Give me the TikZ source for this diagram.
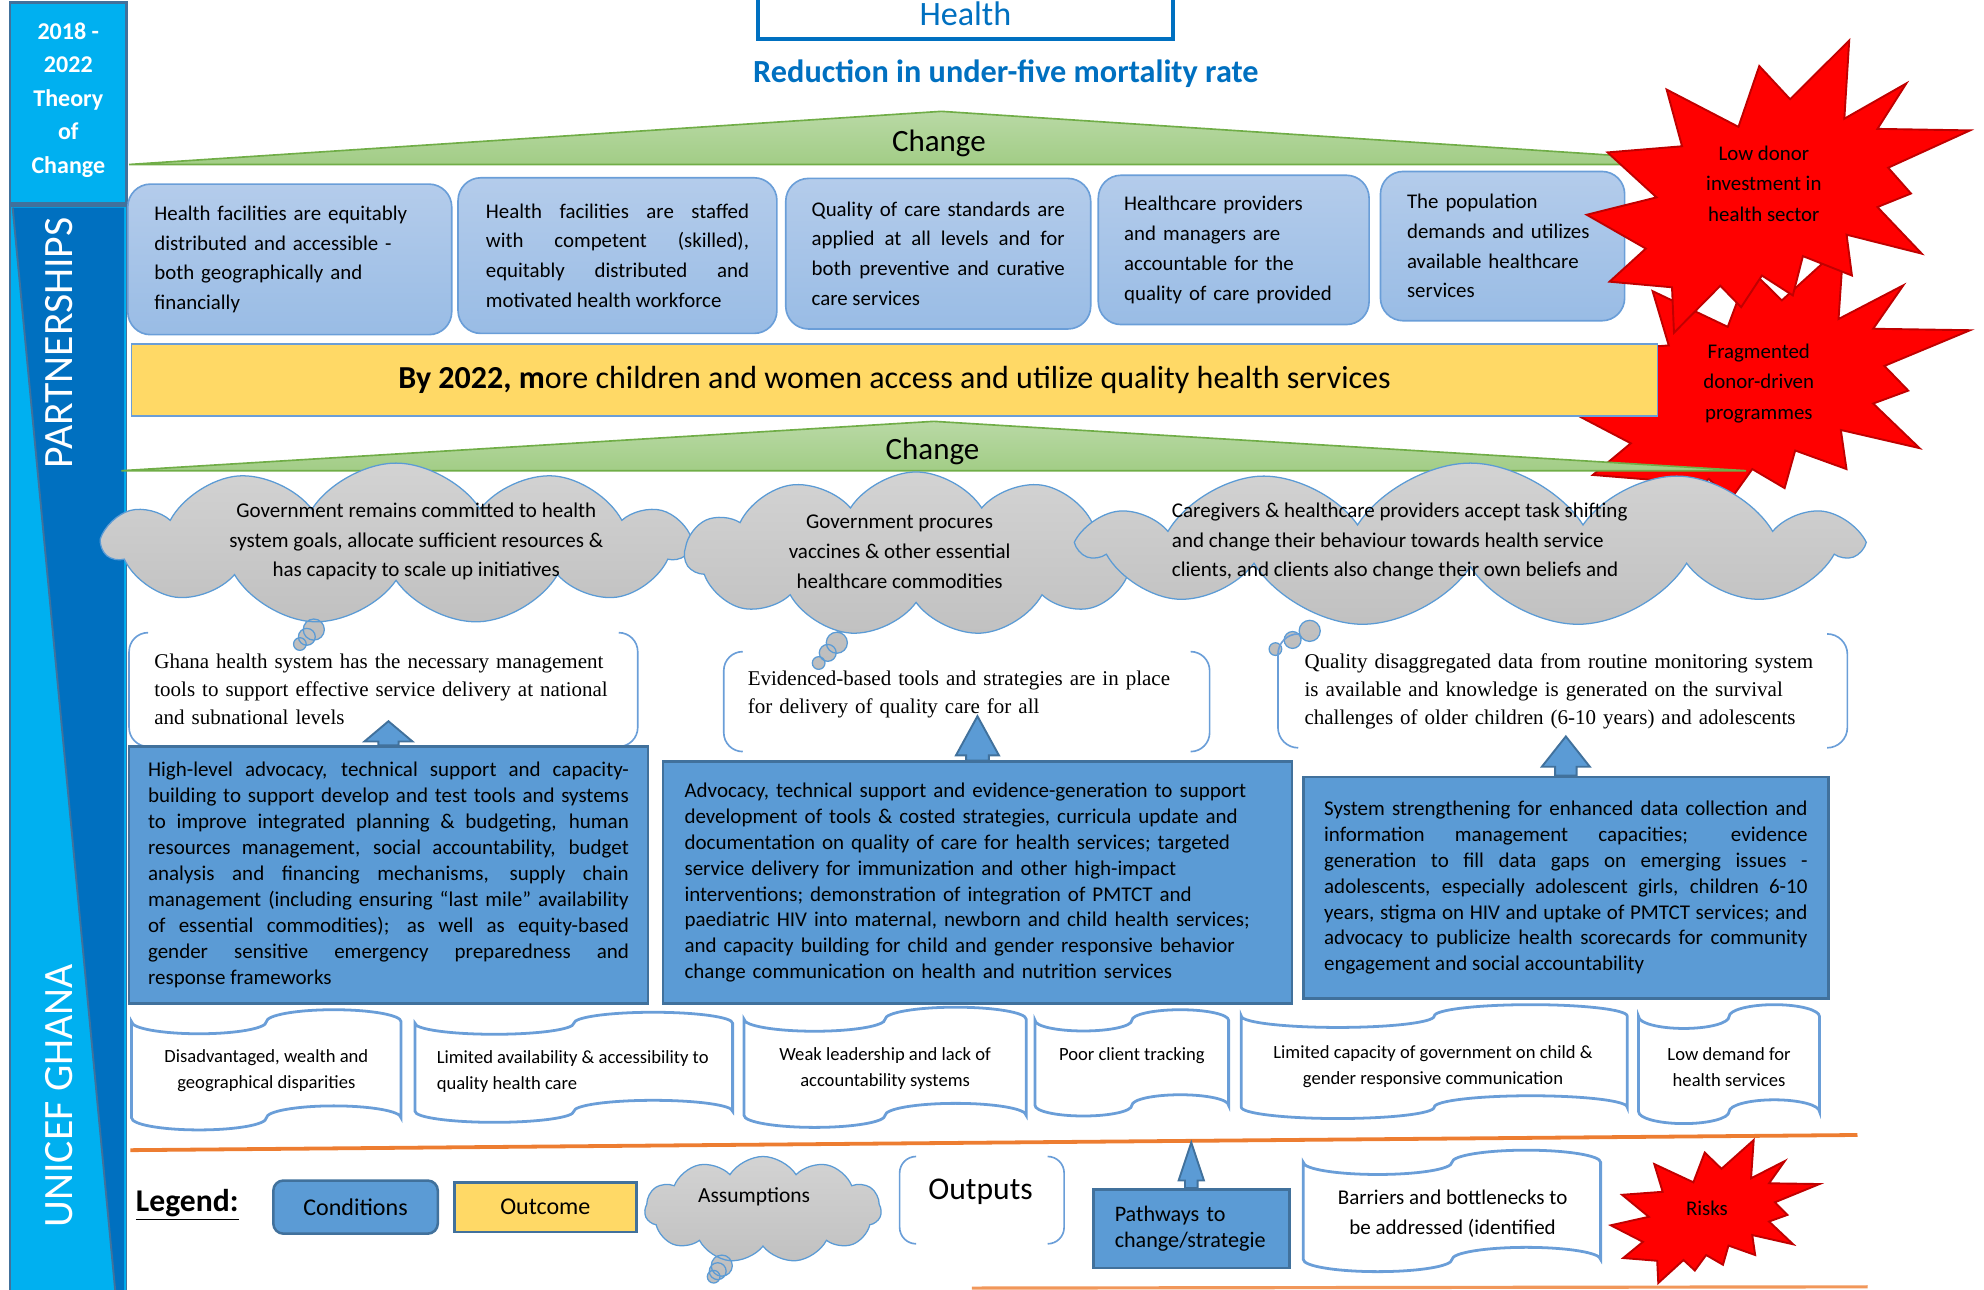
\documentclass[tikz,border=0pt]{standalone}
\usepackage{fontspec}
\setmainfont{Carlito}
\newfontfamily\timesfont{Liberation Serif}
\usetikzlibrary{positioning,calc,shapes.symbols,shapes.callouts}

\definecolor{sidelight}{HTML}{00B0F0}
\definecolor{sidedark}{HTML}{0070C0}
\definecolor{sideedge}{HTML}{41719C}
\definecolor{headblue}{HTML}{0070C0}
\definecolor{condtop}{HTML}{B4CCEB}
\definecolor{condbot}{HTML}{99BCE5}
\definecolor{condedge}{HTML}{6A9ED8}
\definecolor{stratfill}{HTML}{5B9BD5}
\definecolor{stratedge}{HTML}{41719C}
\definecolor{outfill}{HTML}{FFD966}
\definecolor{greentop}{HTML}{B9D9A5}
\definecolor{greenbot}{HTML}{A2CD86}
\definecolor{greenedge}{HTML}{70AD47}
\definecolor{cloudtop}{HTML}{D3D3D3}
\definecolor{cloudbot}{HTML}{BDBDBD}
\definecolor{cloudedge}{HTML}{5B9BD5}
\definecolor{starred}{HTML}{FF0000}
\definecolor{staredge}{HTML}{C00000}
\definecolor{lineorange}{HTML}{ED7D31}

\hyphenpenalty=10000
\newcommand\fs[2]{\fontsize{#1}{#2}\selectfont}

% explosion: x0, y0, width, height
\newcommand\explosion[4]{%
  \draw[burst] ({#1+0.5306*#3},{#2+0.2010*#4})
    \foreach \px/\py in {0.6847/0,0.6720/0.2675,0.8336/0.1469,0.7583/0.3024,1/0.3076,
      0.7863/0.4353,0.8458/0.5236,0.7583/0.5699,0.8739/0.7293,0.6778/0.6644,0.6918/0.8042,
      0.5639/0.7377,0.5376/0.8723,0.4570/0.8042,0.4028/0.9126,0.3485/0.8391,0.2276/1,
      0.2225/0.8444,0.0595/0.8252,0.1542/0.7120,0/0.5962,0.1822/0.5367,0.0543/0.3829,
      0.2487/0.3619,0.2084/0.1678,0.3958/0.2955,0.4501/0.0874}
    {-- ({#1+\px*#3},{#2+\py*#4})} -- cycle;}

% punched tape: x0, y0, width, height
\newcommand\tapeframe[4]{%
  \draw[tapeline] (#1,{#2+0.1*#4})
    arc[start angle=180,end angle=360,x radius={0.25*#3*1pt},y radius={0.1*#4*1pt}]
    arc[start angle=180,end angle=0,x radius={0.25*#3*1pt},y radius={0.1*#4*1pt}]
    -- ({#1+#3},{#2+0.9*#4})
    arc[start angle=0,end angle=180,x radius={0.25*#3*1pt},y radius={0.1*#4*1pt}]
    arc[start angle=0,end angle=-180,x radius={0.25*#3*1pt},y radius={0.1*#4*1pt}]
    -- cycle;}

% bracket pair: x0, y0, x1, y1, radius
\newcommand\bracketpair[5]{%
  \draw[bracketline] ({#1+#5},#2) arc[start angle=90,end angle=180,radius=#5pt]
    -- (#1,{#4-#5}) arc[start angle=180,end angle=270,radius=#5pt];
  \draw[bracketline] ({#3-#5},#2) arc[start angle=90,end angle=0,radius=#5pt]
    -- (#3,{#4-#5}) arc[start angle=0,end angle=-90,radius=#5pt];}

% up arrow on a node: node, length, shaft, head half, shaft half
\newcommand\blockup[5]{%
  \draw[arrowblock] ($(#1.north)+(-#5,0)$) -- ++(0,-#3) -- ++({#5-#4},0)
    -- ($(#1.north)+(0,-#2)$) -- ($(#1.north)+(#4,-#3)$) -- ++({#5-#4},0)
    -- ($(#1.north)+(#5,0)$) -- cycle;}

\begin{document}
\begin{tikzpicture}[x=1pt, y=-1pt,
    condbox/.style={rectangle, rounded corners=18pt, draw=condedge, line width=1.3pt,
      top color=condtop, bottom color=condbot, font=\fs{16.5}{23.5}, inner sep=0pt},
    stratbox/.style={rectangle, draw=stratedge, line width=2pt, fill=stratfill,
      font=\fs{16.6}{20.5}, inner sep=0pt},
    outbox/.style={rectangle, inner sep=0pt, align=left, font=\timesfont\fs{16.6}{22}},
    assume/.style={cloud callout, cloud puffs=11, cloud puff arc=115, cloud ignores aspect,
      draw=cloudedge, line width=1pt, top color=cloudtop, bottom color=cloudbot,
      callout pointer segments=3, callout pointer start size=20pt and 20pt,
      callout pointer end size=8pt and 10pt, inner sep=0pt},
    asmtext/.style={font=\fs{16.6}{23.5}, align=center, inner sep=0pt},
    barrier/.style={font=\fs{14.7}{20.5}, align=center, inner sep=0pt},
    burst/.style={fill=starred, draw=staredge, line width=1.5pt},
    bursttext/.style={font=\fs{16.5}{24}, align=center, inner sep=0pt},
    tapeline/.style={draw=condedge, line width=2.2pt, fill=white},
    bracketline/.style={draw=condedge, line width=1.3pt},
    arrowblock/.style={fill=stratfill, draw=stratedge, line width=1.5pt},
    change/.style={top color=greentop, bottom color=greenbot, draw=greenedge, line width=1.3pt}]
\useasboundingbox (0,0) rectangle (1568,1019);
\clip (0,0) rectangle (1568,1019);

% side banner
\draw[sideedge, line width=2pt, fill=sidelight] (8,2) rectangle (100,161);
\draw[sideedge, line width=1.5pt, fill=sidelight] (8,163) rectangle (100,1030);
\fill[sidedark] (10,164) -- (98,164) -- (98,1030) -- (92,1030) -- cycle;
\draw[sideedge, line width=1.5pt] (10,164) -- (92,1030);
\node[font=\bfseries\fs{19}{26.5}, text=white, align=center] (period) at (54,79) {2018 -\\2022\\Theory\\of\\Change};
\node[font=\fs{33}{33}, text=white, rotate=90, inner sep=0pt] (partners) at (47,271) {PARTNERSHIPS};
\node[font=\fs{33}{33}, text=white, rotate=90, inner sep=0pt] (unicef) at (47,866) {UNICEF GHANA};

% impact
\node[draw=headblue, line width=3.5pt, fill=white, minimum width=328pt, minimum height=40pt, text=headblue, font=\fs{27}{27}] (health) at (763,11) {Health};
\node[text=headblue, font=\bfseries\fs{25.5}{25.5}] (impact) at (795,58) {Reduction in under-five mortality rate};

\draw[change] (102,130) -- (744,88) -- (1386,130) -- cycle;
\node[font=\fs{24.5}{24.5}] (change1) at (742,113) {Change};

% conditions
\node[condbox, minimum width=256pt, minimum height=119pt, text width=214pt, align=left] (cond1) at (229,205) {Health facilities are equitably\\distributed and accessible -\\both geographically and\\financially};
\node[condbox, minimum width=252pt, minimum height=123pt, text width=208pt, align=justify] (cond2) at (488,202) {Health facilities are staffed\linebreak with competent (skilled),\linebreak equitably distributed and\linebreak motivated health workforce};
\node[condbox, minimum width=241pt, minimum height=119pt, text width=200pt, align=justify] (cond3) at (741.5,200.5) {Quality of care standards are\linebreak applied at all levels and for\linebreak both preventive and curative\linebreak care services};
\node[condbox, minimum width=214pt, minimum height=118pt, text width=173pt, align=left] (cond4) at (975,197.5) {Healthcare providers\\and managers are\\accountable for the\\quality of care provided};
\node[condbox, minimum width=193pt, minimum height=118pt, text width=151pt, align=left] (cond5) at (1187.5,194.5) {The population\\demands and utilizes\\available healthcare\\services};

% risks
\explosion{1240}{193}{317}{221}
\explosion{1254}{32}{303}{231}
\node[bursttext] (lowdonor) at (1394,145) {Low donor\\investment in\\health sector};
\node[bursttext] (fragment) at (1390,303) {Fragmented\\donor-driven\\programmes};

% outcome
\node[draw=condedge, line width=1.3pt, fill=outfill, minimum width=1206pt, minimum height=57pt, font=\fs{25.3}{25.3}] (outcome) at (707,300.5) {\textbf{By 2022, m}ore children and women access and utilize quality health services};

\draw[change] (96,372) -- (738,333) -- (1380,372) -- cycle;
\node[font=\fs{24.5}{24.5}] (change2) at (737,357) {Change};

% assumptions
\node[assume, minimum width=462pt, minimum height=128pt, callout absolute pointer={(237,509)}] (cloud1) at (313,430) {};
\node[asmtext] (asm1) at (329,428) {Government remains committed to health\\system goals, allocate sufficient resources \&\\has capacity to scale up initiatives};
\node[assume, minimum width=365pt, minimum height=130pt, callout absolute pointer={(647,524)}] (cloud2) at (724,438) {};
\node[asmtext] (asm2) at (711,436) {Government procures\\vaccines \& other essential\\healthcare commodities};
\node[assume, minimum width=612pt, minimum height=130pt, callout absolute pointer={(1008,513)}] (cloud3) at (1162,431) {};
\node[asmtext, align=left, anchor=west] (asm3) at (926,428) {Caregivers \& healthcare providers accept task shifting\\and change their behaviour towards health service\\clients, and clients also change their own beliefs and};

% outputs
\bracketpair{102}{500}{504}{590}{15}
\node[outbox, text width=376pt] (out1) at (310,545) {Ghana health system has the necessary management\\tools to support effective service delivery at national\\and subnational levels};
\bracketpair{572}{515}{956}{594}{15}
\node[outbox, text width=346pt] (out2) at (764,549) {Evidenced-based tools and strategies are in place\\for delivery of quality care for all};
\bracketpair{1010}{501}{1460}{591}{16}
\node[outbox, text width=408pt] (out3) at (1235,546.5) {Quality disaggregated data from routine monitoring system\\is available and knowledge is generated on the survival\\challenges of older children (6-10 years) and adolescents};

% strategies
\node[stratbox, minimum width=410pt, minimum height=203pt, text width=380pt, align=justify] (strat1) at (307,691.5) {High-level advocacy, technical support and capacity-\linebreak building to support develop and test tools and systems\linebreak to improve integrated planning \& budgeting, human\linebreak resources management, social accountability, budget\linebreak analysis and financing mechanisms, supply chain\linebreak management (including ensuring “last mile” availability\linebreak of essential commodities); as well as equity-based\linebreak gender sensitive emergency preparedness and\linebreak response frameworks};
\node[stratbox, minimum width=497pt, minimum height=191pt, text width=463pt, align=left] (strat2) at (772.5,697.5) {Advocacy, technical support and evidence-generation to support\\development of tools \& costed strategies, curricula update and\\documentation on quality of care for health services; targeted\\service delivery for immunization and other high-impact\\interventions; demonstration of integration of PMTCT and\\paediatric HIV into maternal, newborn and child health services;\\and capacity building for child and gender responsive behavior\\change communication on health and nutrition services};
\node[stratbox, minimum width=415pt, minimum height=175pt, text width=382pt, align=justify] (strat3) at (1237.5,701.5) {System strengthening for enhanced data collection and\linebreak information management capacities; evidence\linebreak generation to fill data gaps on emerging issues -\linebreak adolescents, especially adolescent girls, children 6-10\linebreak years, stigma on HIV and uptake of PMTCT services; and\linebreak advocacy to publicize health scorecards for community\linebreak engagement and social accountability};
\blockup{strat1}{19}{3}{19}{8}
\blockup{strat2}{35}{4}{17}{9}
\blockup{strat3}{31}{7}{19}{8.5}

% barriers
\tapeframe{104}{798}{213}{95}
\node[barrier] (gap1) at (210.5,846) {Disadvantaged, wealth and\\geographical disparities};
\tapeframe{328}{800}{251}{87}
\node[barrier, align=left, anchor=west] (gap2) at (345,847) {Limited availability \& accessibility to\\quality health care};
\tapeframe{588}{796}{223}{95}
\node[barrier] (gap3) at (699.5,844.5) {Weak leadership and lack of\\accountability systems};
\tapeframe{818}{798}{153}{84}
\node[barrier] (gap4) at (894.5,834) {Poor client tracking};
\tapeframe{981}{794}{305}{90}
\node[barrier] (gap5) at (1132.5,843) {Limited capacity of government on child \&\\gender responsive communication};
\tapeframe{1295}{794}{143}{94}
\node[barrier] (gap6) at (1366.5,843) {Low demand for\\health services};

\draw[lineorange, line width=3pt] (103,909) -- (1468,897);
\draw[lineorange!80, line width=2.5pt] (768,1018) -- (1476,1017);

% legend
\node[font=\bfseries\fs{25}{25}] (legend) at (148,952) {\underline{Legend:}};
\node[rectangle, rounded corners=8pt, draw=stratedge, line width=2pt, fill=stratfill, minimum width=130pt, minimum height=42pt, font=\fs{19}{19}] (legcond) at (281,954) {Conditions};
\node[rectangle, draw=stratedge, line width=2pt, fill=outfill, minimum width=144pt, minimum height=39pt, font=\fs{19}{19}, right=11pt of legcond] (legout) {Outcome};
\node[assume, minimum width=187pt, minimum height=84pt, callout absolute pointer={(564,1009)}] (legasm) at (603,956) {};
\node[font=\fs{17}{17}, inner sep=0pt] (legasmtext) at (596,946) {Assumptions};
\bracketpair{711}{914}{841}{983}{13}
\node[font=\fs{25}{25}, inner sep=0pt] (legoutput) at (775,942) {Outputs};
\node[stratbox, minimum width=155pt, minimum height=62pt, text width=121pt, align=left, font=\fs{17.5}{20.5}] (legpath) at (941.5,971) {Pathways to\\change/strategie};
\blockup{legpath}{36}{6}{10}{5}
\tapeframe{1030}{909}{235}{96}
\node[barrier, font=\fs{16.6}{23.5}] (legtape) at (1148,959) {Barriers and bottlenecks to\\be addressed (identified};
\explosion{1273}{901}{165}{113}
\node[bursttext] (legrisk) at (1349,955) {Risks};
\end{tikzpicture}
\end{document}
